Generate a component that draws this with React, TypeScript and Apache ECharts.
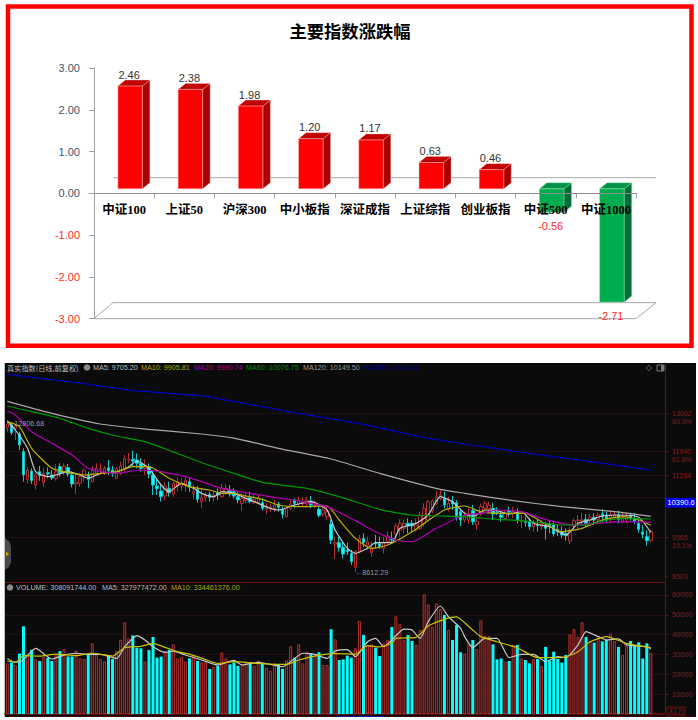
import React, { useEffect, useRef } from "react";
import * as echarts from "echarts";

// ---------- Upper chart ----------
const titleText = "主要指数涨跌幅";
const indexNames = ["中证100", "上证50", "沪深300", "中小板指", "深证成指", "上证综指", "创业板指", "中证500", "中证1000"];
const indexChanges = [2.46, 2.38, 1.98, 1.2, 1.17, 0.63, 0.46, -0.56, -2.71];

// ---------- Lower chart: daily candles ----------
const opens = [12597,12671,12579,12423,11935,11171,11401,11015,11383,11079,11355,11291,11190,11521,11355,11493,11291,11043,11061,11245,11291,11107,11337,11447,11337,11493,11429,11199,11337,11475,11705,11723,11705,11613,11475,11503,11291,10987,10849,10711,10923,10767,10987,10987,11015,11107,10785,10895,10555,10675,10757,10675,10803,10693,10803,10859,10831,10693,10509,10583,10665,10527,10527,10527,10353,10343,10371,10491,10325,10141,10371,10601,10491,10509,10491,10573,10445,10343,10215,10141,9939,9387,9423,9295,9221,9129,8743,9175,9543,9341,9147,9423,9405,9267,9451,9543,9663,9773,9819,9957,9957,9773,9819,9957,10049,10307,10491,10647,10647,10343,10555,10527,10279,10049,10049,10307,9911,10215,10371,10353,10371,10251,10187,10095,10307,10233,10251,10003,10003,10003,9865,9911,9865,9911,9939,9911,9791,9727,9681,9469,9865,10031,10021,10067,10049,10123,10067,10215,10159,10095,10123,10187,10003,10049,10159,10086,9957,9718,9589,9479];
const closes = [12699,12459,12643,12119,11291,11429,11135,11291,11273,11337,11319,11208,11383,11355,11539,11319,11043,11079,11245,11411,11171,11429,11475,11466,11475,11411,11337,11466,11539,11751,11723,11677,11613,11475,11567,11319,11015,10914,10693,10987,10803,11061,11107,11061,11135,10951,10831,10619,10675,10739,10675,10739,10739,10923,10923,10767,10711,10601,10647,10693,10555,10619,10647,10371,10417,10417,10463,10399,10205,10371,10491,10509,10601,10564,10601,10463,10463,10178,10325,10279,9497,9423,9285,9111,9175,8899,9175,9543,9423,9451,9267,9387,9313,9423,9607,9497,9883,9957,9957,9883,9883,9911,10187,10371,10555,10583,10693,10739,10463,10509,10491,10123,10049,10187,10233,10003,10003,10417,10509,10463,10215,10233,10123,10233,10270,10279,10049,10031,9985,9865,9957,9893,9957,9819,9893,9663,9727,9635,9617,9773,10031,10049,10049,9957,10123,10049,10187,10141,10049,10187,10187,10067,10123,10141,10104,10021,9791,9653,9479,9736];
const lows = [12487,12395,12257,11981,11107,11061,11043,10895,11135,10969,11199,11153,11135,11245,11291,11245,10951,10767,10969,11107,10923,11079,11291,11291,11291,11291,11245,11171,11291,11383,11613,11521,11475,11383,11291,11199,10739,10739,10555,10583,10693,10693,10831,10859,10831,10831,10619,10527,10371,10555,10555,10555,10601,10675,10739,10693,10647,10509,10307,10509,10509,10491,10491,10307,10215,10279,10279,10279,10095,10123,10325,10371,10417,10435,10417,10371,10371,10123,10141,10049,9387,8973,9175,8991,9083,8807,8612.29,9129,9295,9221,9037,9267,9249,9129,9405,9405,9543,9589,9681,9681,9727,9727,9773,9865,10003,10233,10463,10601,10371,10279,10325,10031,9883,9975,9939,9911,9773,10159,10325,10233,10049,10187,10003,10049,10141,10095,9957,9819,9865,9773,9727,9727,9773,9515,9681,9589,9607,9543,9479,9387,9773,9773,9911,9865,9911,9911,9957,10003,9975,9957,10049,9957,9957,9957,10031,9939,9699,9543,9341,9423];
const highs = [12806.68,12735,12671,12487,12027,11521,11475,11337,11539,11475,11503,11429,11595,11613,11613,11595,11383,11337,11337,11475,11383,11539,11613,11613,11539,11705,11539,11521,11659,11843,11907,11963,11889,11751,11723,11613,11429,11153,11061,11107,11107,11107,11227,11199,11227,11199,11015,10987,10923,10831,10831,10831,10923,11043,11043,11015,10923,10831,10785,10831,10831,10739,10739,10647,10509,10509,10601,10555,10417,10417,10619,10647,10693,10675,10693,10711,10601,10463,10435,10417,10049,9589,9589,9423,9423,9221,9221,9635,9681,9589,9451,9635,9589,9589,9727,9727,9957,10067,10049,10095,10049,10095,10279,10509,10601,10619,10859,10895,10831,10693,10711,10601,10371,10279,10371,10463,10187,10509,10583,10555,10527,10399,10279,10325,10417,10417,10371,10187,10141,10095,10049,10049,10049,10003,10031,10003,9911,9865,9819,9865,10095,10187,10251,10215,10215,10233,10251,10343,10279,10325,10307,10307,10251,10251,10251,10233,10067,9911,9773,9773];

// Moving averages as [day, value]
const ma5Line = [[0,12781],[2,12533],[5,12027],[7,11383],[10,11245],[12,11291],[15,11383],[18,11291],[20,11199],[23,11337],[27,11383],[30,11521],[32,11677],[35,11475],[38,11015],[40,10831],[43,11061],[46,10923],[48,10785],[51,10693],[53,10831],[56,10785],[58,10693],[60,10601],[62,10509],[65,10371],[67,10325],[71,10463],[75,10555],[79,10325],[81,9773],[84,9267],[86,9129],[89,9267],[91,9423],[95,9423],[97,9819],[101,9957],[104,10187],[107,10693],[110,10555],[113,10233],[115,10141],[118,10325],[121,10307],[124,10215],[127,10279],[130,9957],[134,9865],[138,9635],[141,9957],[144,10049],[147,10159],[151,10187],[156,10123],[159,9705.2]];
const ma10Line = [[0,12763],[3,12625],[6,12027],[11,11475],[14,11383],[19,11291],[23,11337],[27,11383],[31,11521],[35,11521],[40,11199],[45,10969],[50,10877],[53,10785],[56,10785],[59,10711],[63,10619],[67,10463],[72,10417],[79,10435],[82,10049],[86,9543],[90,9267],[94,9359],[100,9727],[108,10325],[113,10435],[117,10279],[121,10233],[128,10233],[132,10003],[137,9727],[142,9819],[147,10049],[152,10141],[156,10049],[159,9905.81]];
const ma20Line = [[0,13057],[2,12947],[6,12487],[11,12165],[16,11843],[20,11475],[27,11337],[33,11429],[38,11383],[44,11245],[48,11107],[53,10923],[56,10859],[60,10785],[66,10675],[73,10555],[79,10417],[86,10031],[91,9727],[96,9497],[100,9451],[106,9819],[113,10187],[117,10233],[121,10325],[127,10279],[132,10095],[137,9957],[140,9911],[146,9957],[151,10003],[159,9990.74]];
const ma60Line = [[0,13195],[6,13039],[13,12855],[20,12579],[27,12367],[34,12211],[43,11843],[49,11595],[56,11337],[63,11089],[74,10923],[82,10693],[92,10343],[100,10187],[113,10141],[121,10067],[127,10031],[133,9957],[137,9911],[143,9911],[148,10049],[153,10095],[159,10076.75]];
const ma120Line = [[0,13324],[11,12993],[23,12699],[35,12551],[48,12423],[56,12310],[67,12027],[80,11733],[92,11337],[107,10895],[113,10785],[125,10583],[137,10417],[150,10279],[159,10149.5]];
const ma250Line = [[0,14069],[17,13839],[31,13619],[48,13481],[56,13324],[72,12993],[88,12689],[104,12303],[113,12147],[129,11889],[146,11631],[159,11428.05]];

// Price axis ticks
const priceTicks = [13002, 11940, 11284, 9565, 8503];
const pricePercents = ["80.9%", "61.8%", "", "19.1%", ""];
const priceGuideLines = [13002, 11940, 11284, 10665, 9565];

// Volumes (unit: 10,000)
const volumes = [25500,26000,24700,30400,44200,30000,32400,27500,26700,28700,28200,26700,30000,31700,32700,29000,29000,32000,28000,27700,30400,35600,30000,27700,26500,29700,27700,31700,37400,46200,38100,39600,33400,33100,26500,32200,38800,28400,28900,31700,32400,35100,28000,28700,26400,28000,29700,26700,26000,26000,22700,23800,24300,31000,28000,25000,26000,24300,24700,26400,26000,24300,26900,25700,23300,21700,25500,24700,22700,27000,34100,28400,35100,25500,31400,30600,29700,31100,24700,24700,42700,37600,27200,27500,29400,28400,33100,46900,39800,34800,35100,33400,29200,35600,37300,43800,49200,45200,37300,39800,36800,34800,42300,60300,55200,44000,55800,52900,49900,42300,37300,44800,31100,30400,35600,37300,32700,47200,39300,39300,35100,27500,28000,26400,26700,34800,34800,28000,27200,25500,27700,27700,24200,33800,27000,31400,27700,25900,29700,40100,42800,38800,46200,38800,36400,35900,38500,36600,37300,40600,36800,33800,29700,34400,36800,34400,36100,28000,35600,30809];
const volMa5Line = [[0,26700],[3,26000],[7,33100],[11,27700],[14,29700],[17,30600],[20,30000],[23,30000],[27,28000],[29,33900],[31,38100],[32,39500],[34,37300],[36,33900],[39,31000],[41,31700],[44,29700],[48,27200],[52,24700],[56,27000],[58,24700],[62,26000],[65,25000],[68,23800],[71,28000],[73,30600],[76,30000],[79,28000],[81,31700],[84,32400],[86,28900],[89,36400],[91,38100],[93,33900],[95,37300],[98,42800],[100,42300],[102,38100],[104,46500],[107,54400],[109,49000],[112,43200],[113,39000],[115,33400],[118,38100],[121,38100],[124,28400],[127,30000],[130,30000],[133,26400],[136,28900],[138,28400],[141,34800],[143,41500],[146,39000],[148,37300],[151,37800],[153,34800],[158,33900],[159,32798]];
const volMa10Line = [[0,28000],[2,26000],[4,29400],[8,29200],[12,30200],[17,29400],[21,30600],[26,29200],[29,33400],[33,34100],[36,35600],[39,33600],[42,31400],[45,30200],[49,27400],[52,25500],[56,26400],[62,25500],[66,25000],[69,25000],[72,27200],[76,29200],[81,30400],[86,30200],[89,34400],[92,33800],[95,35600],[96,38100],[101,38600],[104,44300],[108,47700],[111,48900],[113,46000],[115,42300],[117,39000],[121,36400],[126,33400],[131,28400],[137,28400],[141,31400],[144,36400],[148,39000],[153,35600],[159,33446]];

// Header texts
const panelName = "真实指数(日线,前复权)";
const maLegend = ["MA5: 9705.20", "MA10: 9905.81", "MA20: 9990.74", "MA60: 10076.75", "MA120: 10149.50", "MA250: 11428.05"];
const volumeLegend = ["VOLUME: 308091744.00", "MA5: 327977472.00", "MA10: 334461376.00"];

const RED = "#b23030";
const CYAN = "#00ffff";
const AXIS_RED = "#6d1212";
const TICK_RED = "#8c1a1a";
const SANS = '"Liberation Sans", Arial, sans-serif';
const CJK = '"Noto Sans CJK SC", sans-serif';

const dayLabels = opens.concat([0, 0, 0]).map((_, i) => String(i));

function renderBar3D(params: any, api: any) {
  const idx = api.value(0);
  const val = api.value(1);
  const base = api.coord([idx, 0]);
  const end = api.coord([idx, val]);
  const band = api.size([1, 0])[0];
  const w = band * 0.407;
  const dx = band * 0.1; // front plane offset of the 3D box
  const dy = -4.5;
  const depthX = 7.5;
  const depthY = -6;
  const cx = base[0] + dx;
  const l = cx - w / 2;
  const r = cx + w / 2;
  const yBase = base[1] + dy;
  const yEnd = end[1] + dy;
  const top = Math.min(yBase, yEnd);
  const bottom = Math.max(yBase, yEnd);
  const up = val >= 0;
  const front = up ? "#ff0000" : "#00ad4e";
  const side = up ? "#a80000" : "#006f35";
  const lid = up ? "#c00000" : "#009447";
  const edge = up ? "#ffb8b8" : "#8fdcb0";
  return {
    type: "group",
    children: [
      { type: "polygon", shape: { points: [[r, top], [r + depthX, top + depthY], [r + depthX, bottom + depthY], [r, bottom]] }, style: { fill: side, stroke: edge, lineWidth: 0.4 } },
      { type: "polygon", shape: { points: [[l, top], [l + depthX, top + depthY], [r + depthX, top + depthY], [r, top]] }, style: { fill: lid, stroke: edge, lineWidth: 0.4 } },
      { type: "rect", shape: { x: l, y: top, width: r - l, height: bottom - top }, style: { fill: front, stroke: edge, lineWidth: 0.5 } },
      {
        type: "text",
        style: {
          text: val.toFixed(2),
          x: cx - 1,
          y: up ? top + depthY - 5.5 : bottom + 13.5,
          align: "center",
          verticalAlign: "middle",
          fill: up ? "#333333" : "#ff2a2a",
          font: `11px ${SANS}`,
        },
      },
    ],
  };
}

function label(text: string, x: number, y: number, fill: string, extra: any = {}) {
  return {
    type: "text",
    z: 50,
    x,
    y,
    silent: true,
    style: { text, fill, font: `7.2px ${SANS}`, verticalAlign: "middle", ...extra },
  };
}

function maSeries(name: string, data: number[][], color: string, axis: number, smooth = 0.2) {
  return {
    name,
    type: "line",
    xAxisIndex: axis,
    yAxisIndex: axis,
    data,
    smooth,
    showSymbol: false,
    silent: true,
    lineStyle: { color, width: 1.2 },
    z: 4,
  };
}

export default function App() {
  const ref = useRef<HTMLDivElement>(null);

  useEffect(() => {
    document.body.style.margin = "0";
    const chart = echarts.init(ref.current!, undefined, { renderer: "svg" });
    const volumeItems = volumes.map((v, i) => {
      const up = closes[i] >= opens[i];
      return {
        value: v,
        itemStyle: up
          ? { color: "#2a0909", borderColor: RED, borderWidth: 1 }
          : { color: CYAN, borderColor: CYAN, borderWidth: 0 },
      };
    });
    const candles = opens.map((o, i) => [o, closes[i], lows[i], highs[i]]);

    const grayLine = { stroke: "#a8a8a8", lineWidth: 1 };

    chart.setOption({
      animation: false,
      backgroundColor: "#ffffff",
      title: {
        text: titleText,
        left: 345,
        top: 17,
        textAlign: "center",
        textStyle: { color: "#000000", fontSize: 17.3, fontWeight: "bold", fontFamily: CJK },
      },
      grid: [
        { left: 94, right: 62, top: 68, bottom: 401.3 },
        { left: 5.3, right: 33, top: 363, bottom: 138 },
        { left: 5.3, right: 33, top: 583, bottom: 6 },
      ],
      xAxis: [
        {
          type: "category",
          gridIndex: 0,
          data: indexNames,
          z: 5,
          axisLine: { onZero: true, lineStyle: { color: "#8c8c8c", width: 1 } },
          axisTick: { show: true, length: 5, lineStyle: { color: "#a0a0a0" } },
          axisLabel: { color: "#000000", fontSize: 12.5, fontWeight: "bold", fontFamily: `"Liberation Serif", ${CJK}`, margin: -115, interval: 0 },
        },
        {
          type: "category",
          gridIndex: 1,
          data: dayLabels,
          axisLine: { show: true, onZero: false, lineStyle: { color: AXIS_RED, width: 1 } },
          axisTick: { show: false },
          axisLabel: { show: false },
        },
        {
          type: "category",
          gridIndex: 2,
          data: dayLabels,
          axisLine: { show: true, onZero: false, lineStyle: { color: "#5a0d0d", width: 2 } },
          axisTick: { show: false },
          axisLabel: { show: false },
        },
      ],
      yAxis: [
        {
          type: "value",
          gridIndex: 0,
          min: -3,
          max: 3,
          interval: 1,
          axisLine: { show: true, onZero: false, lineStyle: { color: "#a0a0a0" } },
          axisTick: { show: true, length: 5, lineStyle: { color: "#a0a0a0" } },
          splitLine: { show: false },
          axisLabel: {
            margin: 14,
            fontSize: 11,
            fontFamily: SANS,
            formatter: (v: number) => v.toFixed(2),
            color: (v: any) => (Number(v) < 0 ? "#ff2a2a" : "#44546a"),
          },
        },
        {
          type: "value",
          gridIndex: 1,
          position: "right",
          min: 8338,
          max: 14382,
          axisLine: { show: true, lineStyle: { color: AXIS_RED } },
          axisTick: { show: true, length: 3, lineStyle: { color: AXIS_RED }, customValues: priceTicks },
          splitLine: { show: false },
          axisLabel: {
            customValues: priceTicks,
            margin: 7,
            fontSize: 7,
            lineHeight: 8,
            fontFamily: SANS,
            color: TICK_RED,
            formatter: (v: number) => {
              const pct = pricePercents[priceTicks.indexOf(v)];
              return pct ? `\n${v}\n${pct}` : `${v}`;
            },
          },
        },
        {
          type: "value",
          gridIndex: 2,
          position: "right",
          min: 0,
          max: 66000,
          interval: 10000,
          axisLine: { show: true, lineStyle: { color: AXIS_RED } },
          axisTick: { show: true, length: 3, lineStyle: { color: AXIS_RED } },
          splitLine: { show: true, showMinLine: false, showMaxLine: false, lineStyle: { color: "#4d1010", type: "dotted", width: 1 } },
          axisLabel: {
            margin: 7,
            fontSize: 7.4,
            fontFamily: SANS,
            color: TICK_RED,
            showMinLabel: false,
            showMaxLabel: false,
            formatter: (v: number) => String(v),
          },
        },
      ],
      series: [
        {
          type: "custom",
          xAxisIndex: 0,
          yAxisIndex: 0,
          data: indexChanges.map((v, i) => [i, v]),
          encode: { x: 0, y: 1 },
          renderItem: renderBar3D,
          silent: true,
          z: 2,
        },
        {
          type: "candlestick",
          xAxisIndex: 1,
          yAxisIndex: 1,
          data: candles,
          barWidth: 3,
          silent: true,
          itemStyle: {
            color: "#160707",
            color0: CYAN,
            borderColor: RED,
            borderColor0: "#10c8cc",
            borderWidth: 1,
          },
          markLine: {
            silent: true,
            symbol: "none",
            label: { show: false },
            lineStyle: { color: "#4d1010", type: "dotted", width: 1 },
            data: priceGuideLines.map((v) => ({ yAxis: v })),
            z: 1,
          },
          z: 3,
        },
        maSeries("MA5", ma5Line, "#c8c8c8", 1),
        maSeries("MA10", ma10Line, "#b8b000", 1),
        maSeries("MA20", ma20Line, "#b000b0", 1),
        maSeries("MA60", ma60Line, "#009800", 1),
        maSeries("MA120", ma120Line, "#a8a8a8", 1),
        maSeries("MA250", ma250Line, "#0000c0", 1, 0),
        {
          type: "bar",
          xAxisIndex: 2,
          yAxisIndex: 2,
          data: volumeItems,
          barWidth: 3,
          silent: true,
          z: 3,
        },
        maSeries("VOL MA5", volMa5Line, "#c8c8c8", 2),
        maSeries("VOL MA10", volMa10Line, "#c8c400", 2),
      ],
      graphic: {
        elements: [
          // frame of the upper chart
          { type: "rect", z: 1, silent: true, shape: { x: 8, y: 6.5, width: 683.5, height: 339.3 }, style: { fill: "none", stroke: "#ff0000", lineWidth: 4.5 } },
          // 3D floor and back line of the upper chart
          { type: "polyline", z: 1, silent: true, shape: { points: [[94, 318.7], [636, 318.7], [656, 302.7], [113, 302.7], [94, 318.7]] }, style: { ...grayLine, fill: "none" } },
          { type: "line", z: 1, silent: true, shape: { x1: 113, y1: 177.7, x2: 656, y2: 177.7 }, style: grayLine },
          // dark panel of the lower chart
          { type: "rect", z: -10, silent: true, shape: { x: 5, y: 363, width: 691, height: 354 }, style: { fill: "#0b0b0c" } },
          { type: "line", z: -9, silent: true, shape: { x1: 4.5, y1: 363, x2: 4.5, y2: 717 }, style: { stroke: "#b9c4bb", lineWidth: 1 } },
          { type: "line", z: -9, silent: true, shape: { x1: 5, y1: 716.5, x2: 696, y2: 716.5 }, style: { stroke: "#3a0808", lineWidth: 1 } },
          { type: "line", z: 40, silent: true, shape: { x1: 337, y1: 716.5, x2: 383, y2: 716.5 }, style: { stroke: "#1a1a8c", lineWidth: 1 } },
          // side handle
          { type: "polygon", z: 30, silent: true, shape: { points: [[5, 538], [9, 541], [11, 546], [11, 562], [9, 567], [5, 570]] }, style: { fill: "#4a4a4a" } },
          { type: "polygon", z: 31, silent: true, shape: { points: [[6, 551.5], [9, 554], [6, 556.5]] }, style: { fill: "#e0a000" } },
          // top-right icons
          { type: "polygon", z: 31, silent: true, shape: { points: [[649, 365], [652, 368], [649, 371], [646, 368]] }, style: { fill: "none", stroke: "#666666", lineWidth: 0.8 } },
          { type: "rect", z: 31, silent: true, shape: { x: 657, y: 365, width: 7, height: 6 }, style: { fill: "none", stroke: "#777777", lineWidth: 1 } },
          { type: "rect", z: 31, silent: true, shape: { x: 661, y: 365, width: 3, height: 6 }, style: { fill: "#777777" } },
          // price header
          label(panelName, 7, 367.5, "#bdbdbd", { font: `7.2px ${CJK}` }),
          { type: "circle", z: 50, silent: true, shape: { cx: 87, cy: 367.5, r: 3.3 }, style: { fill: "#8a8a8a" } },
          label(maLegend[0], 93, 367.5, "#bdbdbd"),
          label(maLegend[1], 141, 367.5, "#b0a800"),
          label(maLegend[2], 194, 367.5, "#a400a4"),
          label(maLegend[3], 246, 367.5, "#009000"),
          label(maLegend[4], 303, 367.5, "#9a9a9a"),
          label(maLegend[5], 363, 367.5, "#000090"),
          // extreme-value notes
          label("←12806.68", 7, 423.5, "#9a9a9a"),
          label("←8612.29", 355, 572, "#9a9a9a"),
          // crosshair tag
          { type: "rect", z: 45, silent: true, shape: { x: 666, y: 498, width: 30, height: 9.5 }, style: { fill: "#0000f0" } },
          label("10390.6", 681, 502.8, "#ffffff", { align: "center", font: `7.6px ${SANS}` }),
          // volume header
          { type: "circle", z: 50, silent: true, shape: { cx: 10, cy: 587.5, r: 3.3 }, style: { fill: "#8a8a8a" } },
          label(volumeLegend[0], 16, 587.7, "#bdbdbd"),
          label(volumeLegend[1], 102, 587.7, "#bdbdbd"),
          label(volumeLegend[2], 171, 587.7, "#b0a800"),
          // volume unit box
          { type: "rect", z: 45, silent: true, shape: { x: 667, y: 707, width: 18, height: 8 }, style: { fill: "#0b0b0c", stroke: AXIS_RED, lineWidth: 1 } },
          label("X1万", 669, 711.2, TICK_RED, { font: `7.2px ${CJK}` }),
        ],
      },
    });
    return () => chart.dispose();
  }, []);

  return <div ref={ref} style={{ position: "absolute", left: 0, top: 0, width: 698, height: 720 }} />;
}
